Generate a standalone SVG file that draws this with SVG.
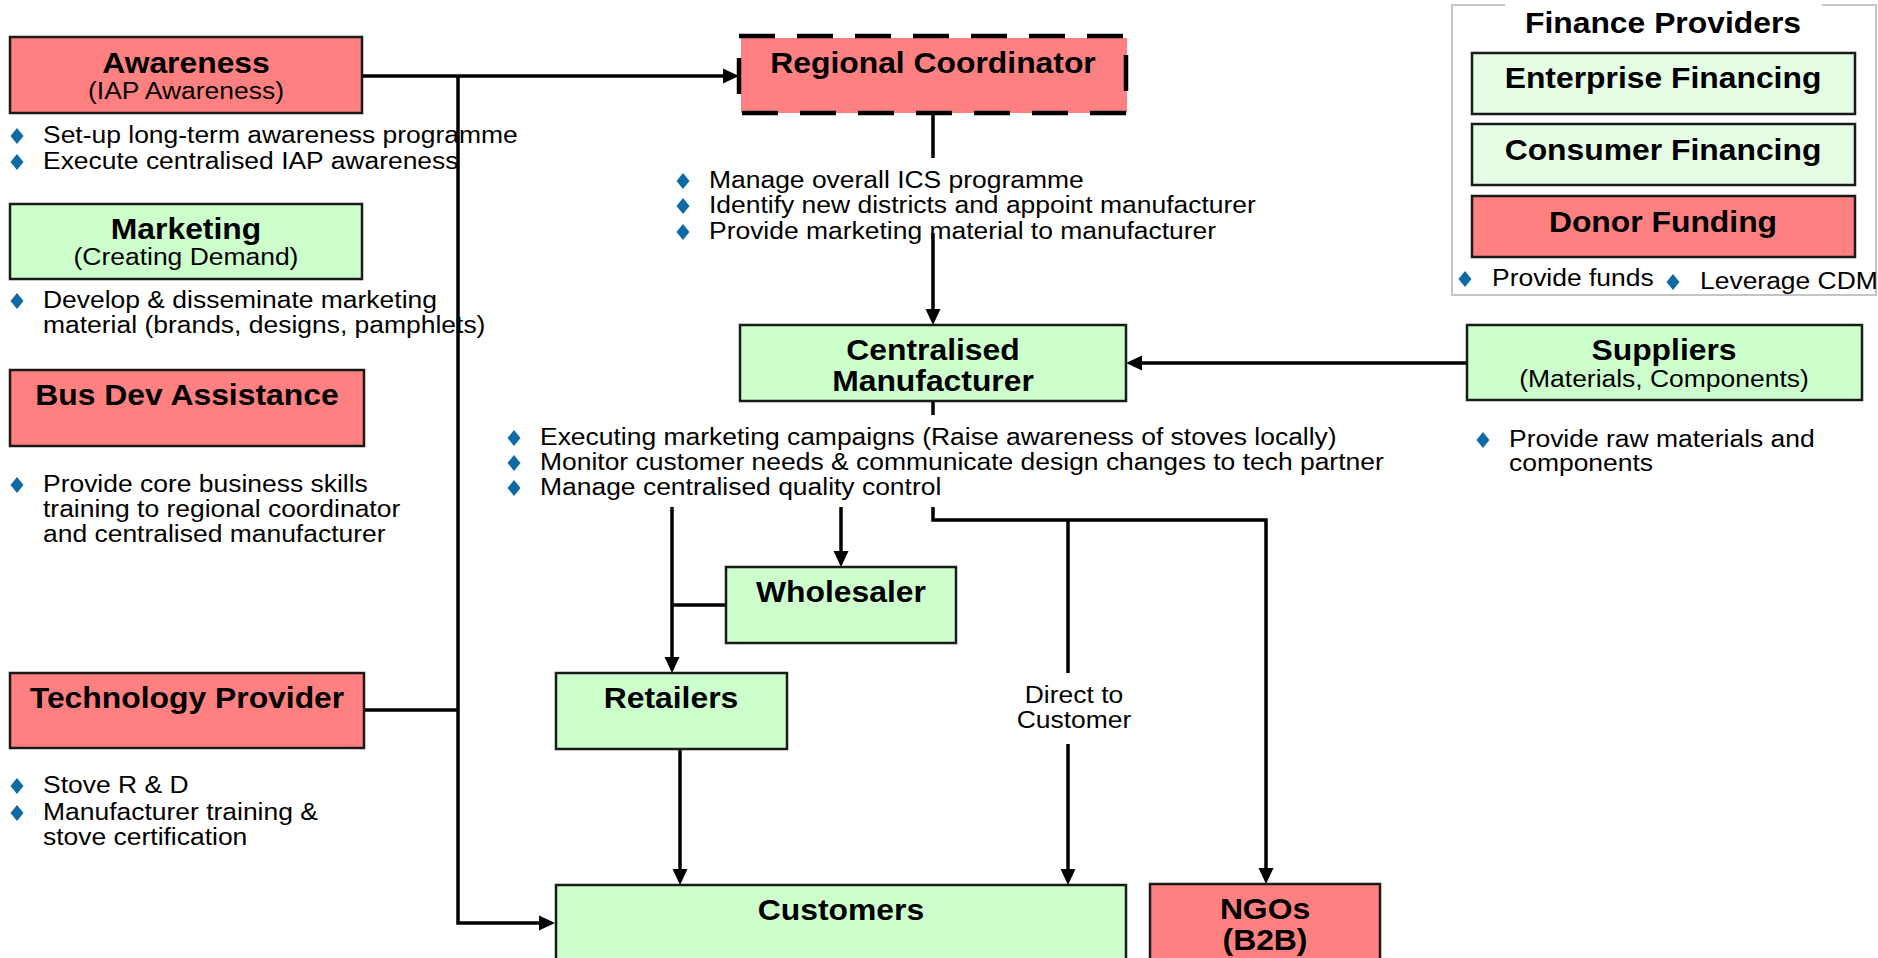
<svg xmlns="http://www.w3.org/2000/svg" xmlns:xlink="http://www.w3.org/1999/xlink" width="1878" height="958" viewBox="0 0 1878 958">
<style>
.pink{fill:#FF8080;stroke:#1a1a1a;stroke-width:2.5}
.green{fill:#CCFFCC;stroke:#1a1a1a;stroke-width:2.5}
.pale{fill:#E4FDE4;stroke:#1a1a1a;stroke-width:2.5}
.b{font-family:"Liberation Sans",Arial,sans-serif;font-weight:bold;font-size:29.5px;fill:#000;text-anchor:middle}
.s{font-family:"Liberation Sans",Arial,sans-serif;font-size:24.5px;fill:#000;text-anchor:middle}
.l{font-family:"Liberation Sans",Arial,sans-serif;font-size:24.5px;fill:#000}
.c{fill:none;stroke:#000;stroke-width:3.5}
</style>
<defs>
<marker id="ah" markerUnits="userSpaceOnUse" markerWidth="17" markerHeight="16" refX="12" refY="8" orient="auto" viewBox="0 0 17 16">
<path d="M0,0.5 L16,8 L0,15.5 Z" fill="#000"/>
</marker>
<path id="dia" d="M0,-8 L6.5,0 L0,8 L-6.5,0 Z" fill="#0d6aa3"/>
</defs>

<g id="connectors">
<path class="c" d="M362,76 H735" marker-end="url(#ah)"/>
<path class="c" d="M458,76 V923 H551" marker-end="url(#ah)"/>
<path class="c" d="M364,710 H458"/>
<path class="c" d="M933,113 V158"/>
<path class="c" d="M933,233 V321" marker-end="url(#ah)"/>
<path class="c" d="M1467,363 H1130" marker-end="url(#ah)"/>
<path class="c" d="M933,401 V415"/>
<path class="c" d="M672,507 V669" marker-end="url(#ah)"/>
<path class="c" d="M841,507 V563" marker-end="url(#ah)"/>
<path class="c" d="M726,605 H672"/>
<path class="c" d="M933,507 V520 H1266 V880" marker-end="url(#ah)"/>
<path class="c" d="M1068,520 V673"/>
<path class="c" d="M1068,744 V881" marker-end="url(#ah)"/>
<path class="c" d="M680,749 V881" marker-end="url(#ah)"/>
<text class="s" transform="translate(1074 703) scale(1.08 1)"><tspan x="0" y="0">Direct to</tspan><tspan x="0" y="25">Customer</tspan></text>
</g>

<g id="awareness">
<rect class="pink" x="10" y="37" width="352" height="76"/>
<text class="b" transform="translate(186 73) scale(1.08 1)">Awareness</text>
<text class="s" transform="translate(186 99) scale(1.08 1)">(IAP Awareness)</text>
<use xlink:href="#dia" x="17" y="136"/>
<use xlink:href="#dia" x="17" y="162"/>
<text class="l" transform="translate(43 143) scale(1.08 1)"><tspan x="0" y="0">Set-up long-term awareness programme</tspan><tspan x="0" y="26">Execute centralised IAP awareness</tspan></text>
</g>

<g id="marketing">
<rect class="green" x="10" y="204" width="352" height="75"/>
<text class="b" transform="translate(186 239) scale(1.08 1)">Marketing</text>
<text class="s" transform="translate(186 265) scale(1.08 1)">(Creating Demand)</text>
<use xlink:href="#dia" x="17" y="301"/>
<text class="l" transform="translate(43 308) scale(1.08 1)"><tspan x="0" y="0">Develop &amp; disseminate marketing</tspan><tspan x="0" y="25">material (brands, designs, pamphlets)</tspan></text>
</g>

<g id="busdev">
<rect class="pink" x="10" y="370" width="354" height="76"/>
<text class="b" transform="translate(187 405) scale(1.08 1)">Bus Dev Assistance</text>
<use xlink:href="#dia" x="17" y="485"/>
<text class="l" transform="translate(43 492) scale(1.08 1)"><tspan x="0" y="0">Provide core business skills</tspan><tspan x="0" y="25">training to regional coordinator</tspan><tspan x="0" y="50">and centralised manufacturer</tspan></text>
</g>

<g id="technology">
<rect class="pink" x="10" y="673" width="354" height="75"/>
<text class="b" transform="translate(187 708) scale(1.08 1)">Technology Provider</text>
<use xlink:href="#dia" x="17" y="786"/>
<use xlink:href="#dia" x="17" y="813"/>
<text class="l" transform="translate(43 793) scale(1.08 1)"><tspan x="0" y="0">Stove R &amp; D</tspan><tspan x="0" y="27">Manufacturer training &amp;</tspan><tspan x="0" y="52">stove certification</tspan></text>
</g>

<g id="regional">
<rect x="741" y="38" width="386" height="75" fill="#FF8080"/>
<rect x="739" y="36" width="387" height="77" fill="none" stroke="#000" stroke-width="4.5" stroke-dasharray="36 22"/>
<text class="b" transform="translate(933 73) scale(1.08 1)">Regional Coordinator</text>
<use xlink:href="#dia" x="683" y="181"/>
<use xlink:href="#dia" x="683" y="206"/>
<use xlink:href="#dia" x="683" y="232"/>
<text class="l" transform="translate(709 188) scale(1.08 1)"><tspan x="0" y="0">Manage overall ICS programme</tspan><tspan x="0" y="25">Identify new districts and appoint manufacturer</tspan><tspan x="0" y="51">Provide marketing material to manufacturer</tspan></text>
</g>

<g id="manufacturer">
<rect class="green" x="740" y="325" width="386" height="76"/>
<text class="b" transform="translate(933 360) scale(1.08 1)"><tspan x="0" y="0">Centralised</tspan><tspan x="0" y="31">Manufacturer</tspan></text>
<use xlink:href="#dia" x="514" y="438"/>
<use xlink:href="#dia" x="514" y="463"/>
<use xlink:href="#dia" x="514" y="488"/>
<text class="l" transform="translate(540 445) scale(1.08 1)"><tspan x="0" y="0">Executing marketing campaigns (Raise awareness of stoves locally)</tspan><tspan x="0" y="25">Monitor customer needs &amp; communicate design changes to tech partner</tspan><tspan x="0" y="50">Manage centralised quality control</tspan></text>
</g>

<g id="suppliers">
<rect class="green" x="1467" y="325" width="395" height="75"/>
<text class="b" transform="translate(1664 360) scale(1.08 1)">Suppliers</text>
<text class="s" transform="translate(1664 387) scale(1.08 1)">(Materials, Components)</text>
<use xlink:href="#dia" x="1483" y="440"/>
<text class="l" transform="translate(1509 447) scale(1.08 1)"><tspan x="0" y="0">Provide raw materials and</tspan><tspan x="0" y="24">components</tspan></text>
</g>

<g id="finance">
<path d="M1505,5 H1452 V295 H1876 V5 H1822" fill="none" stroke="#c4c4c4" stroke-width="2"/>
<text class="b" transform="translate(1663 33) scale(1.08 1)">Finance Providers</text>
<rect class="pale" x="1472" y="53" width="383" height="61"/>
<text class="b" transform="translate(1663 88) scale(1.08 1)">Enterprise Financing</text>
<rect class="pale" x="1472" y="124" width="383" height="61"/>
<text class="b" transform="translate(1663 160) scale(1.08 1)">Consumer Financing</text>
<rect class="pink" x="1472" y="196" width="383" height="61"/>
<text class="b" transform="translate(1663 232) scale(1.08 1)">Donor Funding</text>
<use xlink:href="#dia" x="1465" y="279"/>
<text class="l" transform="translate(1492 286) scale(1.08 1)">Provide funds</text>
<use xlink:href="#dia" x="1673" y="282"/>
<text class="l" transform="translate(1700 289) scale(1.08 1)">Leverage CDM</text>
</g>

<g id="wholesaler">
<rect class="green" x="726" y="567" width="230" height="76"/>
<text class="b" transform="translate(841 602) scale(1.08 1)">Wholesaler</text>
</g>

<g id="retailers">
<rect class="green" x="556" y="673" width="231" height="76"/>
<text class="b" transform="translate(671 708) scale(1.08 1)">Retailers</text>
</g>

<g id="customers">
<rect class="green" x="556" y="885" width="570" height="82"/>
<text class="b" transform="translate(841 920) scale(1.08 1)">Customers</text>
</g>

<g id="ngos">
<rect class="pink" x="1150" y="884" width="230" height="82"/>
<text class="b" transform="translate(1265 919) scale(1.08 1)"><tspan x="0" y="0">NGOs</tspan><tspan x="0" y="31">(B2B)</tspan></text>
</g>
</svg>
